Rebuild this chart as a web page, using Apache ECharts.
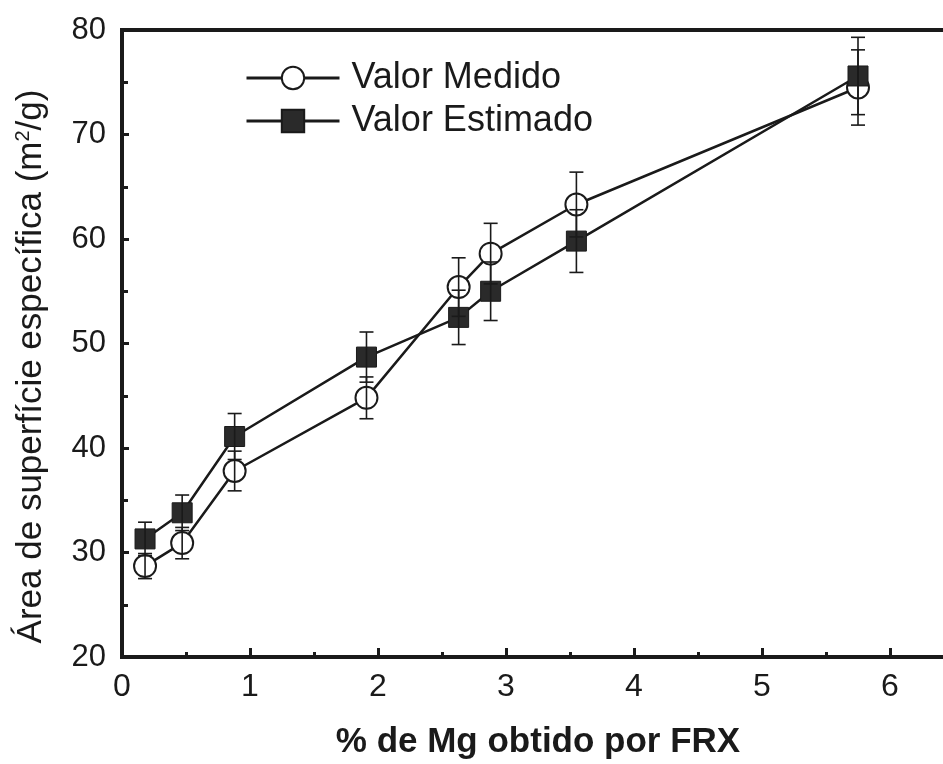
<!DOCTYPE html>
<html><head><meta charset="utf-8">
<script src="https://cdn.jsdelivr.net/npm/echarts@6/dist/echarts.min.js"></script>
<style>html,body{margin:0;padding:0;background:#fff}#c{width:943px;height:764px}</style>
</head><body><div id="c"></div>
<script>
const xMg = [0.18, 0.47, 0.88, 1.91, 2.63, 2.88, 3.55, 5.75];
const medido = [28.7, 30.9, 37.8, 44.8, 55.4, 58.6, 63.3, 74.5];
const medidoErr = [1.2, 1.5, 1.9, 2.0, 2.8, 2.9, 3.1, 3.6];
const estimado = [31.3, 33.8, 41.1, 48.7, 52.5, 55.0, 59.8, 75.6];
const estimadoErr = [1.6, 1.7, 2.2, 2.4, 2.6, 2.8, 3.0, 3.7];
const xTicks = [0, 1, 2, 3, 4, 5, 6];
const yTicks = [20, 30, 40, 50, 60, 70, 80];

const font = 'Liberation Sans, Arial, Helvetica, sans-serif';
const ink = '#1a1a1a';

function errData(vals, errs) {
  return xMg.map((x, i) => [x, vals[i] - errs[i], vals[i] + errs[i]]);
}
function errSeries(vals, errs) {
  return {
    type: 'custom',
    z: 5,
    silent: true,
    data: errData(vals, errs),
    encode: { x: 0, y: [1, 2] },
    renderItem: function (params, api) {
      const x = api.value(0);
      const lo = api.coord([x, api.value(1)]);
      const hi = api.coord([x, api.value(2)]);
      const w = 7;
      const st = { stroke: ink, lineWidth: 1.6 };
      return {
        type: 'group',
        children: [
          { type: 'line', shape: { x1: lo[0], y1: lo[1], x2: hi[0], y2: hi[1] }, style: st },
          { type: 'line', shape: { x1: lo[0] - w, y1: lo[1], x2: lo[0] + w, y2: lo[1] }, style: st },
          { type: 'line', shape: { x1: hi[0] - w, y1: hi[1], x2: hi[0] + w, y2: hi[1] }, style: st }
        ]
      };
    }
  };
}

const chart = echarts.init(document.getElementById('c'));
chart.setOption({
  animation: false,
  backgroundColor: '#fff',
  grid: { left: 122, top: 30, bottom: 107, right: -11, outerBoundsMode: 'none', containLabel: false,
          show: true, borderColor: ink, borderWidth: 4, backgroundColor: 'transparent' },
  legend: {
    left: 240, top: 55, orient: 'vertical', itemWidth: 93, itemHeight: 28, itemGap: 7,
    lineStyle: { width: 3, color: ink },
    textStyle: { fontFamily: font, fontSize: 36, color: ink, padding: [0, 0, 0, 7] },
    data: ['Valor Medido', 'Valor Estimado']
  },
  xAxis: {
    type: 'value', min: 0, max: 6.5, interval: 1,
    axisLine: { show: true, lineStyle: { color: ink, width: 4 } },
    axisTick: { show: true, inside: true, length: 9, lineStyle: { color: ink, width: 3 } },
    minorTick: { show: true, splitNumber: 2, length: 5, lineStyle: { color: ink, width: 3 } },
    splitLine: { show: false },
    axisLabel: {
      fontFamily: font, fontSize: 32, color: ink, margin: 14,
      formatter: v => (xTicks.indexOf(v) >= 0 ? String(v) : '')
    },
    name: '% de Mg obtido por FRX', nameLocation: 'middle', nameGap: 68,
    nameTextStyle: { fontFamily: font, fontSize: 35, fontWeight: 'bold', color: ink }
  },
  yAxis: {
    type: 'value', min: 20, max: 80, interval: 10,
    axisLine: { show: true, lineStyle: { color: ink, width: 4 } },
    axisTick: { show: true, inside: true, length: 7, lineStyle: { color: ink, width: 3 } },
    minorTick: { show: true, splitNumber: 2, length: 6, lineStyle: { color: ink, width: 3 } },
    splitLine: { show: false },
    axisLabel: {
      fontFamily: font, fontSize: 31, color: ink, margin: 16,
      formatter: v => (yTicks.indexOf(v) >= 0 ? String(v) : '')
    },
    name: 'Área de superfície específica (m{sup|2}/g)', nameLocation: 'middle', nameGap: 73,
    nameTextStyle: {
      fontFamily: font, fontSize: 35, color: ink, padding: [0, 46, 0, 0],
      rich: { sup: { fontFamily: font, fontSize: 20, color: ink, verticalAlign: 'top', padding: [0, 0, 16, 0] } }
    }
  },
  series: [
    {
      name: 'Valor Medido', type: 'line', z: 3,
      data: xMg.map((x, i) => [x, medido[i]]),
      symbol: 'circle', symbolSize: 22,
      lineStyle: { color: ink, width: 2.5 },
      itemStyle: { color: '#fff', borderColor: ink, borderWidth: 2 }
    },
    {
      name: 'Valor Estimado', type: 'line', z: 3,
      data: xMg.map((x, i) => [x, estimado[i]]),
      symbol: 'rect', symbolSize: 20,
      lineStyle: { color: ink, width: 2.5 },
      itemStyle: { color: '#2a2a2a', borderColor: ink, borderWidth: 1 }
    },
    errSeries(medido, medidoErr),
    errSeries(estimado, estimadoErr)
  ]
});
</script></body></html>
